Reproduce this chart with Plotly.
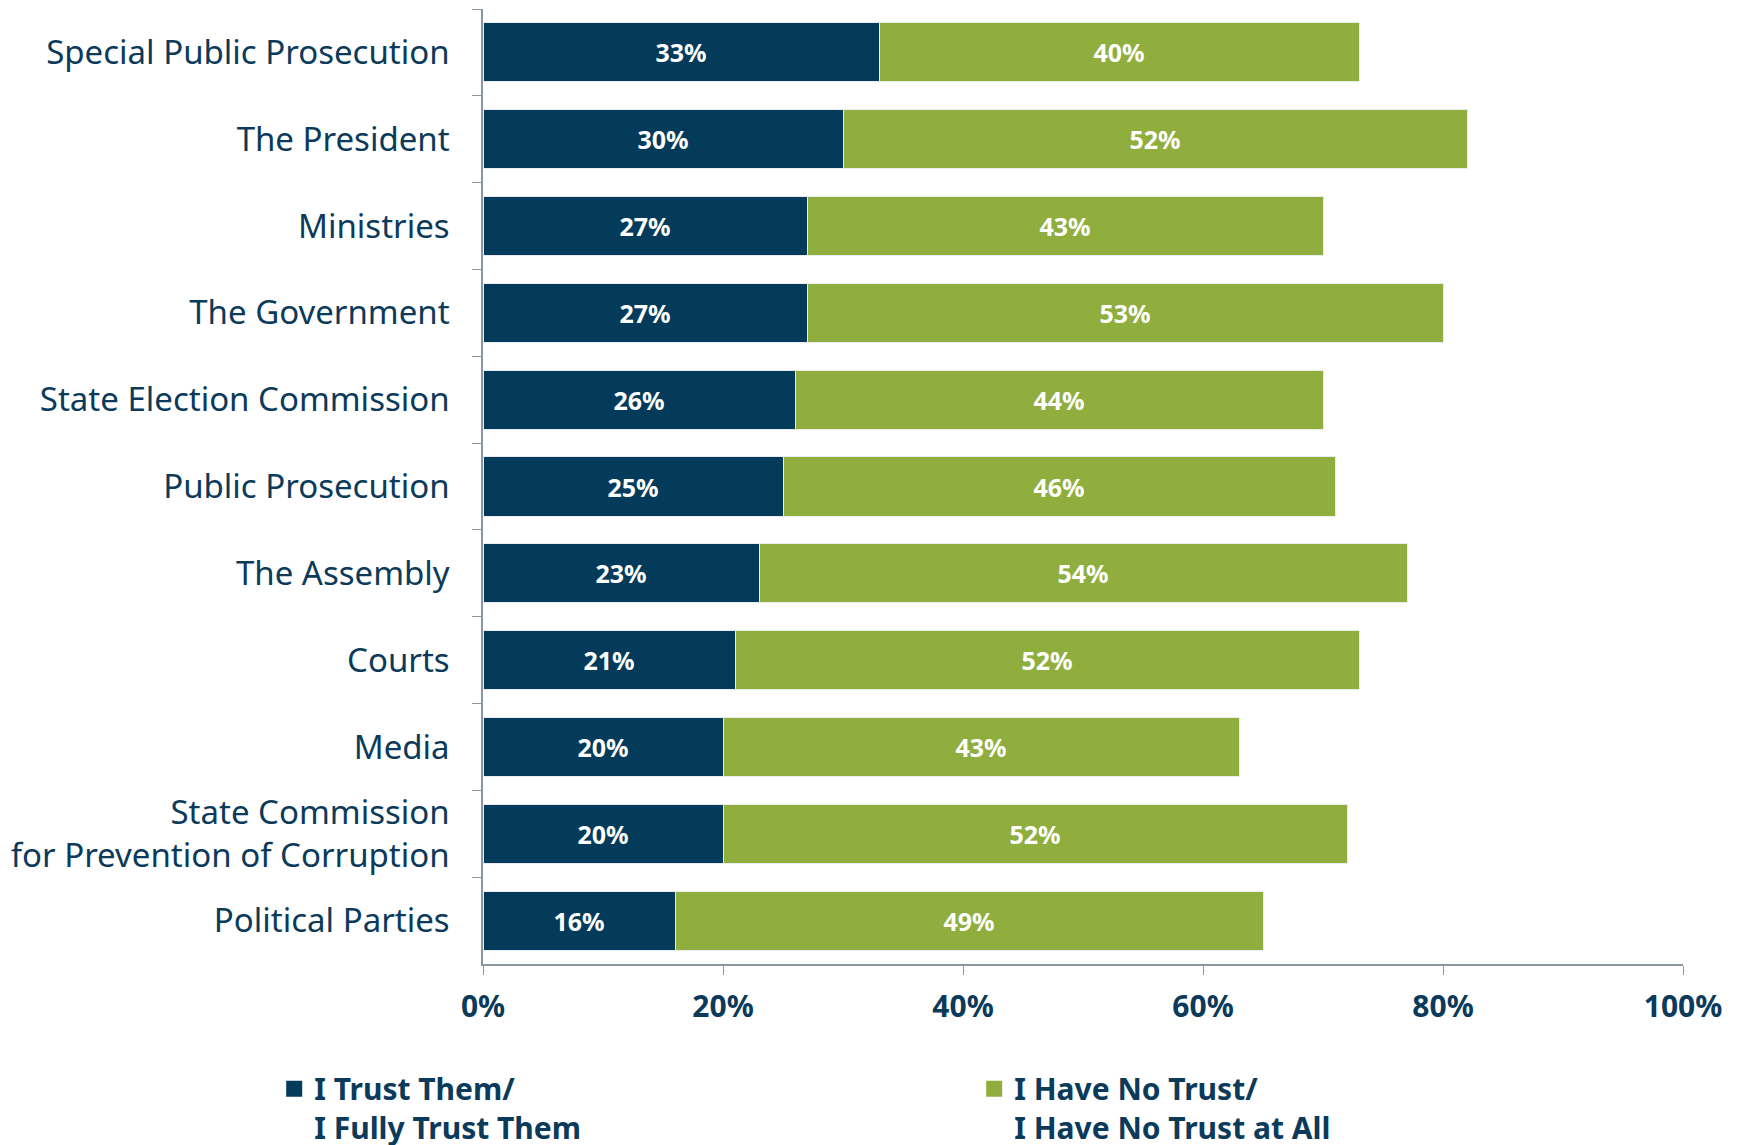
import plotly.graph_objects as go

categories = [
    "Special Public Prosecution",
    "The President",
    "Ministries",
    "The Government",
    "State Election Commission",
    "Public Prosecution",
    "The Assembly",
    "Courts",
    "Media",
    "State Commission<br>for Prevention of Corruption",
    "Political Parties",
]
trust = [33, 30, 27, 27, 26, 25, 23, 21, 20, 20, 16]
no_trust = [40, 52, 43, 53, 44, 46, 54, 52, 43, 52, 49]
series_names = ["I Trust Them/<br>I Fully Trust Them", "I Have No Trust/<br>I Have No Trust at All"]
x_ticks = [0, 20, 40, 60, 80, 100]
x_tick_labels = ["0%", "20%", "40%", "60%", "80%", "100%"]

NAVY = "#043A5A"
GREEN = "#8FAE3E"
TEXT = "#0B3A5A"
AXIS = "#8C96A3"

fig = go.Figure()
for vals, name, col in [(trust, series_names[0], NAVY), (no_trust, series_names[1], GREEN)]:
    fig.add_trace(go.Bar(
        y=categories, x=vals, name=name, orientation="h",
        marker=dict(color=col, line=dict(color="#E8ECEF", width=1)),
        text=[f"{v}%" for v in vals], textposition="inside",
        insidetextanchor="middle",
        textfont=dict(color="white", size=25, family="Noto Sans", weight="bold"),
        hoverinfo="skip", showlegend=False,
    ))
# legend entries with larger square swatches
for name, col in [(series_names[0], NAVY), (series_names[1], GREEN)]:
    fig.add_trace(go.Scatter(
        x=[None], y=[None], mode="markers", name=name,
        marker=dict(symbol="square", size=16, color=col),
        hoverinfo="skip",
    ))

fig.update_layout(
    barmode="stack",
    bargap=0.32,
    width=1730, height=1145,
    margin=dict(l=475, r=55, t=1, b=189, autoexpand=False),
    plot_bgcolor="white", paper_bgcolor="white",
    font=dict(family="Noto Sans", color=TEXT),
    showlegend=True,
    legend=dict(
        orientation="h", x=-0.174, y=-0.1033, xanchor="left", yanchor="top",
        font=dict(size=30, color=TEXT, family="Noto Sans", weight="bold"),
        entrywidth=655, entrywidthmode="pixels",
        itemwidth=30, traceorder="normal", valign="top",
        itemsizing="trace",
    ),
)
fig.update_xaxes(
    range=[0, 100], tickvals=x_ticks, ticktext=x_tick_labels,
    showgrid=False, zeroline=False,
    showline=True, linecolor=AXIS, linewidth=1.5,
    ticks="outside", ticklen=9, tickcolor=AXIS,
    tickfont=dict(size=30, color=TEXT, family="Noto Sans", weight="bold"),
    ticklabelstandoff=6,
)
fig.update_yaxes(
    autorange="reversed",
    showgrid=False, zeroline=False,
    showline=True, linecolor=AXIS, linewidth=1.5,
    ticks="outside", ticklen=9, tickcolor=AXIS, tickson="boundaries",
    tickfont=dict(size=33, color=TEXT, family="Noto Sans"),
    ticklabelstandoff=25,
)
fig.write_html("out.html")
